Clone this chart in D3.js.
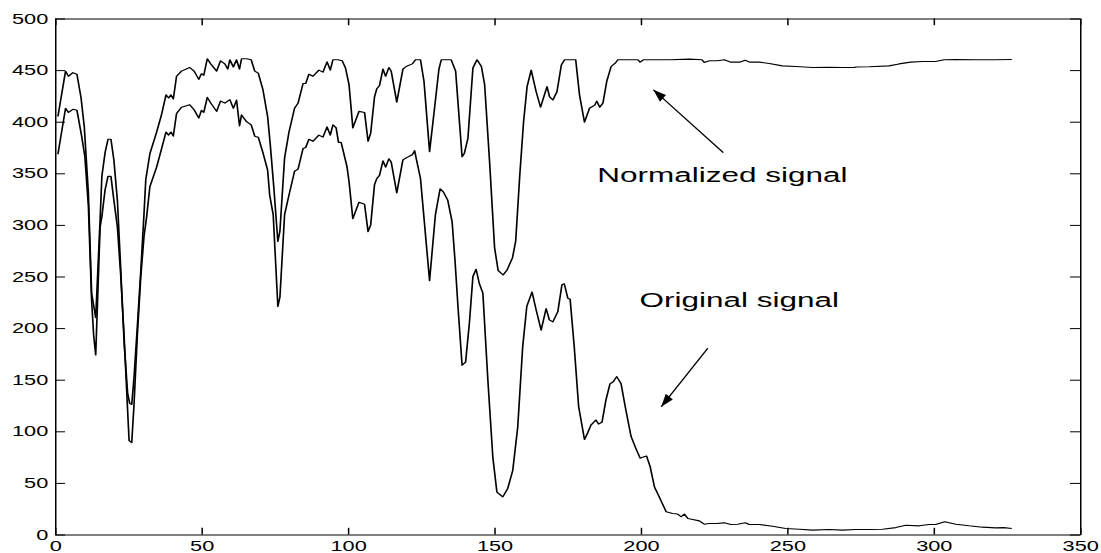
<!DOCTYPE html>
<html>
<head>
<meta charset="utf-8">
<script src="https://cdn.jsdelivr.net/npm/d3@7"></script>
<style>
  body { margin: 0; background: #fff; }
  svg { display: block; }
  text { font-family: "Liberation Sans", Arial, Helvetica, sans-serif; fill: #000; }
</style>
</head>
<body>
<svg id="chart"></svg>
<script>
// x positions and values
const normX = [1, 3.6, 4.6, 6.1, 7.5, 8.9, 10, 11.4, 12.5, 13.9, 15.4, 16, 17.1, 18.1, 19.1, 20.1, 21.3, 22.4, 23.6, 24.8,
  25.5, 26.2, 27, 28.1, 29.3, 30.4, 31, 32.4, 34.7, 36.4, 37.9, 38.8, 39.6, 40.4, 41.5, 43.2, 46, 47.5, 49.1, 50,
  50.8, 52, 53.2, 55.2, 56.5, 58, 59, 59.7, 60.9, 62, 63, 63.7, 65.4, 67, 68.2, 69.4, 71, 72.6, 73.5, 74.7,
  76.1, 76.8, 78.4, 79.9, 81.8, 83, 84.7, 85.6, 86.7, 88.1, 90.1, 91.5, 92.9, 94, 94.9, 96.6, 98.1, 99.2, 100.4, 101.7,
  103.8, 105.7, 106.9, 107.8, 109.1, 109.9, 110.8, 112, 112.9, 114, 114.8, 116.7, 118.8, 119.9, 122, 123.1, 124.8, 126, 127.9, 129.6,
  131.1, 131.9, 135.3, 136.8, 139, 139.8, 141, 142.7, 144.1, 145.6, 146.7, 148.4, 150.1, 151.3, 153, 154.3, 156.2, 157.3, 158.7, 160,
  161.2, 162.6, 164.3, 165.8, 166.8, 168, 168.9, 170, 171.4, 172.9, 174, 177.8, 179.1, 180.8, 182.5, 184.3, 185, 186, 187.1, 188.4,
  189.9, 191.4, 192.2, 199, 199.8, 200.9, 210, 216.6, 220.9, 221.7, 223.5, 226.3, 228.5, 230.8, 233.7, 235.7, 237.1, 240.5, 243.9, 248.4,
  253, 258.7, 264.4, 268.9, 272.9, 273.5, 278, 284.8, 288.2, 292.2, 296.2, 300.7, 303.6, 307.6, 314.4, 321.2, 326.7];
const normY = [405, 449, 444, 447.5, 446, 423, 395, 331, 234, 210, 305, 347, 370, 383, 383, 363, 324, 260, 186, 137,
  127, 126, 153, 201, 256, 311, 344, 369, 390, 407, 426, 423, 426, 422, 444, 449, 452.5, 449, 441, 446.5,
  445, 461, 456, 449, 459, 456, 451, 460, 453, 460, 451, 461, 461, 460, 449, 447, 431, 405, 378, 337,
  284, 294, 365, 390, 413, 418, 437, 437, 446, 444, 450, 448, 458, 450, 460, 460, 459, 452, 436, 394,
  410, 409, 381, 389, 424, 432, 435, 451, 444, 452.5, 449, 419, 451, 453.5, 456, 460, 460, 439, 371, 413,
  451, 460, 460, 449, 366, 369.5, 384, 452, 460, 453.5, 436, 361, 278, 256, 251.5, 256, 268, 284, 348, 400,
  434, 450, 429, 414, 423, 434, 424, 421, 429, 455, 460, 460, 426, 399.5, 413, 416, 420, 414, 418, 439,
  453.5, 457, 460, 460, 457.7, 460, 460, 460.6, 460, 457.4, 459, 459, 460, 457.7, 457.7, 459.6, 457.7, 457.7, 456.4, 454.1,
  453.5, 452.5, 452.8, 452.5, 452.5, 453, 453.2, 454.1, 456, 457.7, 458.3, 458.3, 460, 460.3, 460, 460, 460.3];

const origX = [1, 3.6, 4.6, 6.1, 7.5, 9.1, 10.2, 11.4, 12.5, 13.2, 13.9, 15.4, 16, 17.1, 18.1, 19.1, 20.1, 21.3, 22.4, 23.6,
  24.8, 25.3, 26.2, 27, 28.1, 29.3, 30.4, 31.3, 32.4, 34.7, 36.4, 37.9, 38.8, 39.6, 40.4, 41.5, 43.2, 46, 47.5, 49.1,
  50, 50.8, 52, 53.2, 55.2, 56.5, 58, 59.7, 60.9, 62, 63, 63.7, 65.4, 67, 68.2, 69.4, 71, 72.6, 73.3, 74.5,
  76.1, 76.8, 78.4, 79.9, 81.8, 83, 84.7, 85.6, 86.7, 88.1, 90.1, 91.5, 92.9, 94, 94.9, 96, 96.8, 97.7, 99.7, 100.4,
  101.7, 103.8, 105.7, 106.9, 107.8, 109.1, 109.9, 110.8, 112, 112.9, 114, 114.8, 116.7, 118.8, 119.9, 122, 122.8, 123.3, 124.8, 127.9,
  129.9, 131.5, 132.6, 134.1, 135.6, 136.6, 137.6, 139, 140.2, 141.5, 142.7, 143.8, 144.9, 146.1, 147.8, 149.5, 150.9, 152.9, 154.6, 156.3,
  158, 159.7, 161.1, 162.9, 164.3, 166, 167.7, 168.8, 170, 171.7, 173.1, 173.9, 175.1, 175.9, 177.3, 178.8, 180.8, 181.9, 183, 184.7,
  185.6, 186.8, 188.1, 189.5, 190.6, 191.8, 193.3, 194.7, 196.7, 198.4, 199.8, 200.9, 202, 203.2, 204.7, 206.4, 208.7, 210.9, 212.6, 213.8,
  214.9, 216.1, 217.8, 220, 221.7, 223.4, 226, 228.5, 230.8, 233.1, 235.7, 237.1, 240.5, 245, 249.5, 254.1, 258.7, 264.4, 268.9, 273.5,
  278, 282.6, 287.1, 290.5, 295.1, 298.5, 300.7, 303.8, 307.6, 312.1, 316.7, 321.2, 324, 326.7];
const origY = [368.5, 413, 409, 412, 411, 386, 366, 318, 227, 193, 174, 298, 308, 334, 347, 347, 324, 298, 253, 192,
  120, 91, 89, 127, 192, 250, 289, 308, 337, 356, 374, 390, 387, 390, 386, 408, 414, 416.5, 411.6, 403.5,
  411, 409, 423.6, 418, 410, 420, 418, 421.3, 413, 421, 396, 406.6, 400, 397, 386, 385, 370, 353, 329, 310,
  221, 230, 310, 329, 352, 354, 374, 375, 383, 381, 387, 385, 395, 387, 397, 394, 380, 380, 356.5, 342,
  306, 322, 320, 293.5, 300, 339, 345, 348, 362, 356, 364, 361, 331, 363, 365, 368, 372, 365, 345, 246,
  310, 335, 332, 324, 303, 265, 221, 164, 167, 205, 250, 257, 243, 234, 150, 75, 41, 36.5, 44.6, 62,
  104, 182, 221, 235, 217.5, 198, 219, 208, 206, 216, 242, 243, 229, 228, 182, 124, 92, 98.6, 106, 111,
  107, 109, 130, 146, 148, 153, 146, 124, 95, 83, 74, 75, 76, 66, 46, 36, 22, 20.4, 19.8, 17.2,
  19.8, 15.6, 14.6, 13.2, 10, 10.6, 10.6, 11.3, 9.7, 10, 11.3, 9.7, 9.7, 8, 5.8, 5.1, 4.2, 4.8, 4.2, 4.8,
  4.8, 5.1, 6.7, 9, 8.4, 9.7, 9.7, 12.3, 10, 8.4, 7.1, 6.4, 6.7, 5.8];

const xTicks = [0, 50, 100, 150, 200, 250, 300, 350];
const yTicks = [0, 50, 100, 150, 200, 250, 300, 350, 400, 450, 500];

// annotations: label start, arrow tail, arrow tip (data units)
const notes = [
  { label: 'Normalized signal', at: [185.2, 342], from: [228.2, 370], to: [204.3, 431] },
  { label: 'Original signal', at: [199.6, 220.7], from: [222.9, 180.4], to: [207, 123.7] },
];

// the picture is stretched 1.5x horizontally, so draw narrow and stretch
const W = 1101;
const H = 553;
const sx = 1.5;

const svg = d3.select('#chart')
  .attr('width', W)
  .attr('height', H)
  .attr('viewBox', `0 0 ${W / sx} ${H}`)
  .attr('preserveAspectRatio', 'none');

const x = d3.scaleLinear().domain([0, 350]).range([55 / sx, 1080 / sx]);
const y = d3.scaleLinear().domain([0, 500]).range([534.5, 18.5]);
const tk = 6.7;

const styleAxis = (g) => {
  g.select('.domain').attr('stroke', '#000').attr('stroke-width', 1);
  g.selectAll('.tick line').attr('stroke', '#000');
  g.selectAll('.tick text').attr('font-size', 14.5).attr('font-family', null).attr('fill', '#000');
};

svg.append('g')
  .attr('transform', `translate(0, ${y(0)})`)
  .call(d3.axisBottom(x).tickValues(xTicks).tickSizeInner(-tk).tickSizeOuter(0).tickPadding(6.5))
  .call(styleAxis);

svg.append('g')
  .attr('transform', `translate(0, ${y(500)})`)
  .call(d3.axisTop(x).tickValues(xTicks).tickSizeInner(-tk).tickSizeOuter(0).tickFormat(''))
  .call(styleAxis);

svg.append('g')
  .attr('transform', `translate(${x(0)}, 0)`)
  .call(d3.axisLeft(y).tickValues(yTicks).tickSizeInner(-tk).tickSizeOuter(0).tickPadding(4.5))
  .call(styleAxis);

svg.append('g')
  .attr('transform', `translate(${x(350)}, 0)`)
  .call(d3.axisRight(y).tickValues(yTicks).tickSizeInner(-tk).tickSizeOuter(0).tickFormat(''))
  .call(styleAxis);

const line = d3.line()
  .x((d) => x(d[0]))
  .y((d) => y(d[1]));

[[normX, normY], [origX, origY]].forEach(([xs, ys]) => {
  svg.append('path')
    .datum(xs.map((v, i) => [v, ys[i]]))
    .attr('fill', 'none')
    .attr('stroke', '#000')
    .attr('stroke-width', 1.1)
    .attr('stroke-linejoin', 'round')
    .attr('d', line);
});

// arrow head is worked out in screen pixels, then squeezed back into the viewBox
const head = (from, to) => {
  const x1 = x(from[0]) * sx;
  const y1 = y(from[1]);
  const x2 = x(to[0]) * sx;
  const y2 = y(to[1]);
  const len = Math.hypot(x2 - x1, y2 - y1);
  const ux = (x2 - x1) / len;
  const uy = (y2 - y1) / len;
  const hl = 13;
  const hw = 4.5;
  const bx = x2 - ux * hl;
  const by = y2 - uy * hl;
  return [
    [x2 / sx, y2],
    [(bx - uy * hw) / sx, by + ux * hw],
    [(bx + uy * hw) / sx, by - ux * hw],
  ];
};

notes.forEach((n) => {
  svg.append('text')
    .attr('x', x(n.at[0]))
    .attr('y', y(n.at[1]))
    .attr('font-size', 21)
    .text(n.label);

  svg.append('line')
    .attr('x1', x(n.from[0]))
    .attr('y1', y(n.from[1]))
    .attr('x2', x(n.to[0]))
    .attr('y2', y(n.to[1]))
    .attr('stroke', '#000')
    .attr('stroke-width', 1);

  svg.append('polygon')
    .attr('points', head(n.from, n.to).map((p) => p.join(',')).join(' '))
    .attr('fill', '#000');
});
</script>
</body>
</html>
